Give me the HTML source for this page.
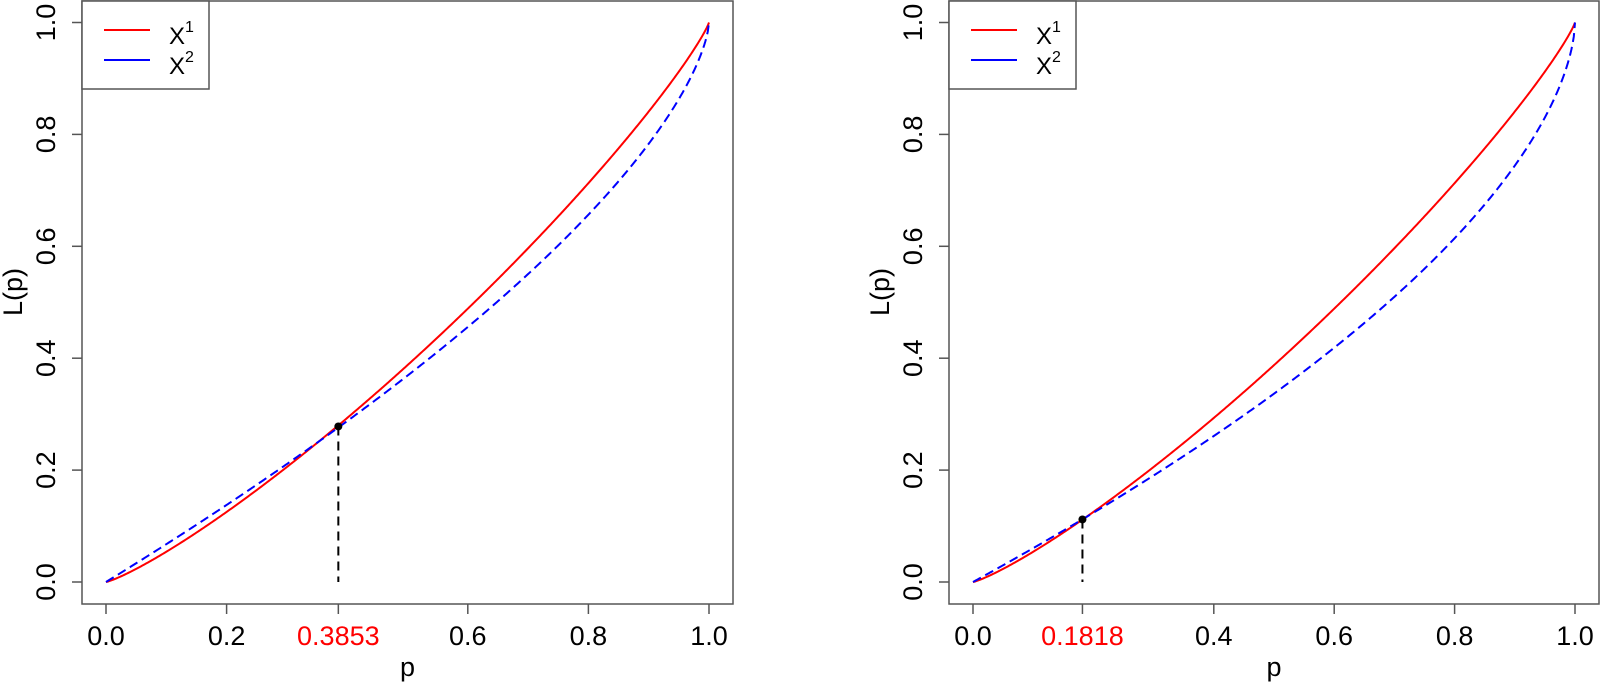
<!DOCTYPE html>
<html><head><meta charset="utf-8"><style>
html,body{margin:0;padding:0;background:#fff}
svg{display:block}
text{font-family:"Liberation Sans",Arial,sans-serif;fill:#000}
</style></head><body>
<svg id="s" width="1600" height="686" viewBox="0 0 1600 686" xmlns="http://www.w3.org/2000/svg"></svg>
<script>
const s=document.getElementById('s');let h='';
function panel(bx0,bx1,x0,x1,fr,fb,pc,ticks){
 const y0=582,y1=22.5;
 const X=p=>x0+(x1-x0)*p, Y=v=>y0+(y1-y0)*v;
 h+=`<rect x="${bx0}" y="1" width="${bx1-bx0}" height="603" fill="none" stroke="#555" stroke-width="1.5"/>`;
 for(let i=0;i<=5;i++){const v=i*0.2,y=Y(v);
  h+=`<line x1="${bx0-10}" y1="${y}" x2="${bx0}" y2="${y}" stroke="#555" stroke-width="1.5"/>`;
  h+=`<text x="0" y="0" font-size="27" text-anchor="middle" transform="translate(${bx0-27},${y}) rotate(-90)">${v.toFixed(1)}</text>`;}
 for(const t of ticks){const x=X(t.v);
  h+=`<line x1="${x}" y1="604" x2="${x}" y2="614" stroke="#555" stroke-width="1.5"/>`;
  h+=`<text x="${x}" y="645" font-size="27" text-anchor="middle" ${t.red?'style="fill:#f00"':''}>${t.l}</text>`;}
 h+=`<text x="${(bx0+bx1)/2}" y="676" font-size="27" text-anchor="middle">p</text>`;
 h+=`<text x="0" y="0" font-size="27" text-anchor="middle" transform="translate(${bx0-60},292) rotate(-90)">L(p)</text>`;
 let r='',bl='';
 for(let i=0;i<=500;i++){const p=i/500;
  r+=(i?'L':'M')+X(p).toFixed(2)+','+Y(fr(p)).toFixed(2);
  bl+=(i?'L':'M')+X(p).toFixed(2)+','+Y(fb(p)).toFixed(2);}
 const lv=(fr(pc)+fb(pc))/2;
 h+=`<line x1="${X(pc)}" y1="${Y(lv)}" x2="${X(pc)}" y2="${y0}" stroke="#000" stroke-width="2" stroke-dasharray="9,6"/>`;
 h+=`<path d="${r}" fill="none" stroke="#f00" stroke-width="2"/>`;
 h+=`<path d="${bl}" fill="none" stroke="#00f" stroke-width="2" stroke-dasharray="9,5"/>`;
 h+=`<circle cx="${X(pc)}" cy="${Y(lv)}" r="4" fill="#000"/>`;
 h+=`<rect x="${bx0}" y="1" width="127" height="88" fill="#fff" stroke="#555" stroke-width="1.5"/>`;
 h+=`<line x1="${bx0+22}" y1="30" x2="${bx0+68}" y2="30" stroke="#f00" stroke-width="2"/>`;
 h+=`<line x1="${bx0+22}" y1="60" x2="${bx0+68}" y2="60" stroke="#00f" stroke-width="2"/>`;
 h+=`<text x="${bx0+87}" y="44" font-size="24">X<tspan font-size="16" dy="-12">1</tspan></text>`;
 h+=`<text x="${bx0+87}" y="74" font-size="24">X<tspan font-size="16" dy="-12">2</tspan></text>`;
}
const red=p=>Math.pow(p,0.2)*(1-Math.pow(1-p,0.85));
panel(82,733,106,709,red,p=>1-Math.pow(1-p,0.664),
 0.3853,[{v:0,l:'0.0'},{v:0.2,l:'0.2'},{v:0.3853,l:'0.3853',red:1},{v:0.6,l:'0.6'},{v:0.8,l:'0.8'},{v:1,l:'1.0'}]);
panel(949,1599,973,1575,red,p=>1-Math.pow(1-p,0.592),
 0.1818,[{v:0,l:'0.0'},{v:0.1818,l:'0.1818',red:1},{v:0.4,l:'0.4'},{v:0.6,l:'0.6'},{v:0.8,l:'0.8'},{v:1,l:'1.0'}]);
s.innerHTML=h;
</script>
</body></html>
